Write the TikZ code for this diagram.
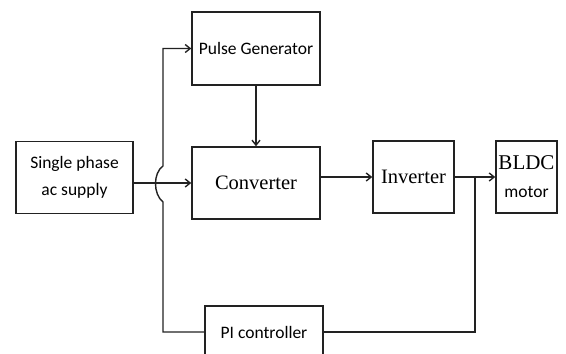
\documentclass[tikz,border=0pt]{standalone}
\usepackage{fontspec}
\setmainfont{Liberation Serif}
\newfontfamily\labelsans{Carlito}
\usetikzlibrary{arrows.meta}
\definecolor{ink}{HTML}{222222}
\tikzset{
  blockbox/.style={draw=ink, line width=1.4pt, fill=white, inner sep=0pt, align=center},
  sanslabel/.style={font=\labelsans\fontsize{17.5}{27}\selectfont},
  seriflabel/.style={font=\fontsize{20.5}{24}\selectfont},
  wire/.style={draw=ink, line width=1.4pt},
  flow/.style={wire, -{Straight Barb[length=5pt,width=8pt,line width=1.4pt]}}
}
\begin{document}
\begin{tikzpicture}[x=1pt,y=-1pt]
  \useasboundingbox (0,0) rectangle (566,354);
  \clip (0,0) rectangle (566,354);

  % blocks
  \node[blockbox, sanslabel, minimum width=128pt, minimum height=73pt] (pg) at (256,48.5) {Pulse Generator};
  \node[blockbox, sanslabel, minimum width=117pt, minimum height=72pt] (src) at (74.5,177.5) {Single phase\\ac supply};
  \node[blockbox, seriflabel, minimum width=128pt, minimum height=72pt] (conv) at (256,183) {Converter};
  \node[blockbox, seriflabel, minimum width=81pt, minimum height=72pt] (inv) at (413.5,177) {Inverter};
  \node[blockbox, font=\labelsans\fontsize{17.5}{28}\selectfont, minimum width=61pt, minimum height=72pt] (bldc) at (526.5,177)
    {{\rmfamily\fontsize{21}{28}\selectfont BLDC}\\motor};
  \node[blockbox, sanslabel, minimum width=118pt, minimum height=52pt] (pi) at (264,332) {PI controller};

  % forward path
  \draw[flow] (pg.south) -- (conv.north);
  \draw[flow] (src.east |- conv.west) -- (conv.west);
  \draw[flow] (conv.east |- inv.west) -- (inv.west);
  \draw[flow] (inv.east) -- (bldc.west);

  % feedback path with a hop over the supply line
  \coordinate (tap) at (475,177);
  \coordinate (hoplow) at (163,202);
  \coordinate (hophigh) at (163,166);
  \draw[wire] (tap) |- (pi.east);
  \draw[flow] (pi.west) -| (hoplow)
    .. controls (153,194) and (153,173) .. (hophigh) |- (pg.west);
\end{tikzpicture}
\end{document}
